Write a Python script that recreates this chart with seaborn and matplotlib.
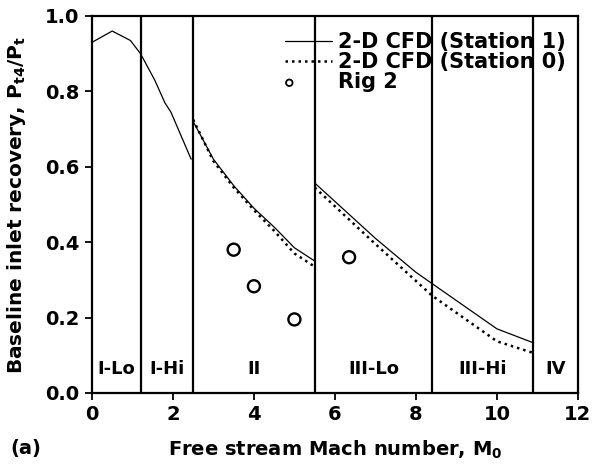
import matplotlib
matplotlib.use("Agg")
import matplotlib.pyplot as plt
import seaborn as sns
import pandas as pd
from matplotlib.legend_handler import HandlerPathCollection

# ---- data ----
st1_I_x = [0.0, 0.5, 0.95, 1.2, 1.55, 1.8, 1.95, 2.45]
st1_I_y = [0.93, 0.96, 0.935, 0.90, 0.83, 0.77, 0.745, 0.62]
st1_II_x = [2.5, 3.0, 3.5, 4.0, 4.5, 5.0, 5.5]
st1_II_y = [0.72, 0.62, 0.55, 0.49, 0.44, 0.385, 0.35]
st1_III_x = [5.5, 7.0, 8.0, 8.4, 10.0, 10.9]
st1_III_y = [0.557, 0.41, 0.32, 0.29, 0.17, 0.133]

st0_II_x = [2.5, 3.0, 3.5, 4.0, 4.5, 5.0, 5.5]
st0_II_y = [0.725, 0.615, 0.545, 0.485, 0.43, 0.37, 0.335]
st0_III_x = [5.5, 7.0, 8.4, 10.0, 10.9]
st0_III_y = [0.545, 0.395, 0.258, 0.137, 0.106]

rig_x = [3.5, 4.0, 5.0, 6.35]
rig_y = [0.38, 0.283, 0.195, 0.36]

boundaries = [1.2, 2.5, 5.5, 8.4, 10.9]
region_labels = ["I-Lo", "I-Hi", "II", "III-Lo", "III-Hi", "IV"]
region_centers = [0.6, 1.85, 4.0, 6.95, 9.65, 11.45]

xticks = [0, 2, 4, 6, 8, 10, 12]
yticks = [0.0, 0.2, 0.4, 0.6, 0.8, 1.0]

sns.set_theme(style="ticks")
plt.rcParams['font.family'] = ['DejaVu Sans']
plt.rcParams['font.weight'] = 'bold'
plt.rcParams['mathtext.default'] = 'bf'
plt.rcParams['text.color'] = 'black'
plt.rcParams['axes.labelcolor'] = 'black'
plt.rcParams['xtick.color'] = 'black'
plt.rcParams['ytick.color'] = 'black'

fig = plt.figure(figsize=(5.97, 4.70), dpi=100)
ax = fig.add_axes([0.154, 0.164, 0.814, 0.802])

DOT = (0, (1.0, 1.6))

def seg(x, y, **kw):
    df = pd.DataFrame({"x": x, "y": y})
    sns.lineplot(data=df, x="x", y="y", ax=ax, estimator=None, sort=False, **kw)

seg(st1_I_x, st1_I_y, color="black", lw=0.9, label="2-D CFD (Station 1)")
seg(st1_II_x, st1_II_y, color="black", lw=0.9)
seg(st1_III_x, st1_III_y, color="black", lw=0.9)
seg(st0_II_x, st0_II_y, color="black", lw=1.8, linestyle=DOT, label="2-D CFD (Station 0)")
seg(st0_III_x, st0_III_y, color="black", lw=1.8, linestyle=DOT)

rig_df = pd.DataFrame({"x": rig_x, "y": rig_y})
sns.scatterplot(data=rig_df, x="x", y="y", ax=ax, marker="o", s=75,
                facecolor="none", edgecolor="black", linewidth=1.7, label="Rig 2")

for b in boundaries:
    ax.axvline(b, color="black", lw=1.6)

for lab, c in zip(region_labels, region_centers):
    ax.text(c, 0.063, lab, ha="center", va="center", fontsize=13, fontweight="bold", color="black")

ax.set_xlim(0, 12)
ax.set_ylim(0, 1.0)
ax.set_xticks(xticks)
ax.set_yticks(yticks)
ax.set_xticklabels([str(t) for t in xticks], fontsize=14, fontweight="bold")
ax.set_yticklabels([f"{t:.1f}" for t in yticks], fontsize=14, fontweight="bold")
ax.tick_params(direction="out", length=5, width=1.3, color="black", labelcolor="black", pad=4)
for s in ax.spines.values():
    s.set_linewidth(1.6)
    s.set_color("black")

ax.set_xlabel(r"Free stream Mach number, M$_0$", fontsize=14, fontweight="bold", labelpad=10, color="black")
ax.set_ylabel(r"Baseline inlet recovery, P$_{t4}$/P$_t$", fontsize=14.5, fontweight="bold", labelpad=12, color="black")
fig.text(0.017, 0.045, "(a)", fontsize=14, fontweight="bold", va="center", color="black")


class LeftMarkerHandler(HandlerPathCollection):
    def get_xdata(self, legend, xdescent, ydescent, width, height, fontsize):
        xd, _ = super().get_xdata(legend, xdescent, ydescent, width, height, fontsize)
        return xd, [0.1 * width - xdescent]


handles, labels = ax.get_legend_handles_labels()
leg = ax.legend(handles, labels, loc="upper right", bbox_to_anchor=(1.0, 0.99), frameon=False,
                handlelength=2.3, handletextpad=0.25, labelspacing=0.0, borderaxespad=0.2,
                prop={"weight": "bold", "size": 15},
                handler_map={type(handles[2]): LeftMarkerHandler()})
for t in leg.get_texts():
    t.set_color("black")
for h in leg.legend_handles:
    if hasattr(h, "set_sizes"):
        h.set_sizes([22])
        h.set_linewidth(1.3)

fig.savefig("out.png", dpi=100)
